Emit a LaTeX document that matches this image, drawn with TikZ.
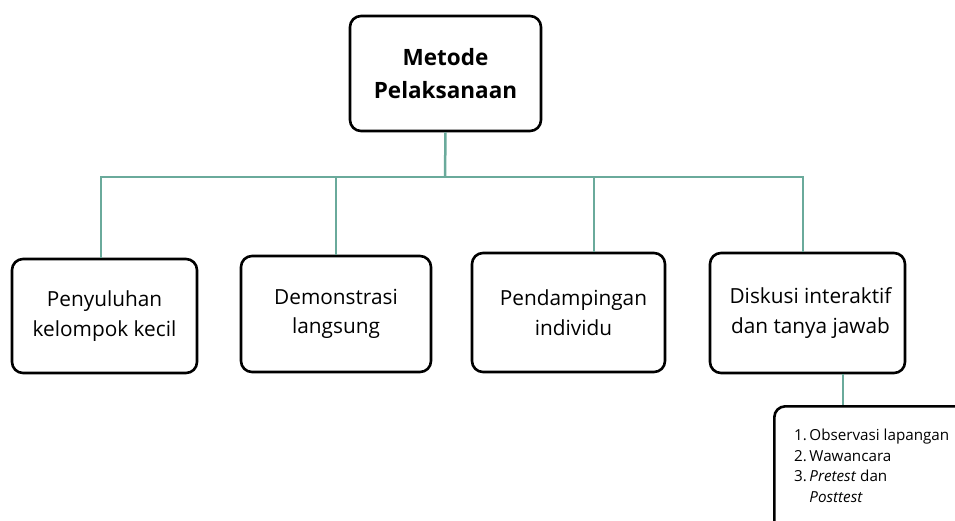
\documentclass[tikz,border=0pt]{standalone}
\usepackage{fontspec}
\setmainfont{Open Sans}
\definecolor{teal1}{HTML}{6AAA9B}
\begin{document}
\begin{tikzpicture}[x=1pt,y=-1pt,
  box/.style={draw=black,line width=2.6pt,rounded corners=11pt,fill=white,align=center,font=\fontsize{20.8}{29.5}\selectfont,inner sep=0pt},
  conn/.style={draw=teal1,line width=2.5pt}]
\useasboundingbox (0,0) rectangle (955,520);
\clip (0,0) rectangle (955,520);
\node[box,minimum width=191pt,minimum height=115pt,font=\fontsize{22.5}{33}\selectfont\bfseries] (top) at (445.5,73.5) {Metode\\Pelaksanaan};
\node[box,minimum width=185pt,minimum height=114pt] (b1) at (104.5,316) {Penyuluhan\\kelompok kecil};
\node[box,minimum width=190pt,minimum height=116pt] (b2) at (336,314) {Demonstrasi\\langsung};
\node[box,minimum width=193pt,minimum height=119pt] (b3) at (568.5,312.5) {\hspace*{10pt}Pendampingan\\\hspace*{10pt}individu};
\node[box,minimum width=195pt,minimum height=120pt] (b4) at (807.5,313) {\hspace*{6pt}Diskusi interaktif\\\hspace*{6pt}dan tanya jawab};
\node[box,minimum width=230pt,minimum height=150pt,anchor=north west] (low) at (773,405) {};
\node[anchor=north west,inner sep=0pt,font=\fontsize{15.2}{20.5}\selectfont] (lst) at (794,426)
  {\begin{tabular}{@{}r@{\,}l@{}}1.&Observasi lapangan\\2.&Wawancara\\3.&\textit{Pretest} dan\\&\textit{Posttest}\end{tabular}};
\coordinate (hub) at (445,177);
\coordinate (d5) at (843,0);
\draw[conn] (top.south) -- (hub);
\draw[conn] ([xshift=-3.5pt]b1.north) |- (hub) -| ([xshift=-4.5pt]b4.north);
\draw[conn] (b2.north) -- (b2.north |- hub);
\draw[conn] ([xshift=25.5pt]b3.north) -- ([xshift=25.5pt]b3.north |- hub);
\draw[conn] (b4.south -| d5) -- (low.north -| d5);
\end{tikzpicture}
\end{document}
